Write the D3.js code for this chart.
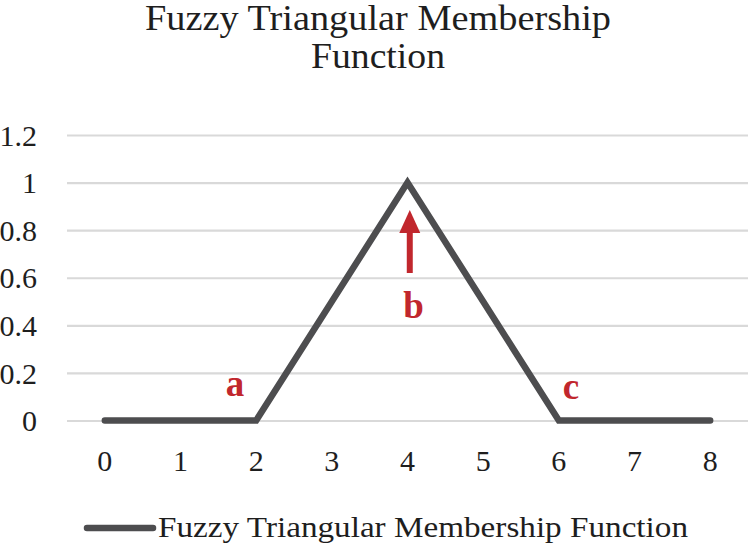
<!DOCTYPE html>
<html>
<head>
<meta charset="utf-8">
<script src="https://cdn.jsdelivr.net/npm/d3@7"></script>
<style>
  body { margin: 0; background: #fff; }
  svg { display: block; }
  .tick text { font-family: 'Liberation Serif', 'DejaVu Serif', serif; font-size: 30px; }
</style>
</head>
<body>
<div id="chart"></div>
<script>
// data
const xCategories = ["0", "1", "2", "3", "4", "5", "6", "7", "8"];
const membership = [0, 0, 0, 0.5, 1, 0.5, 0, 0, 0];
const yTicks = [0, 0.2, 0.4, 0.6, 0.8, 1, 1.2];
const seriesName = "Fuzzy Triangular Membership Function";
const titleLines = ["Fuzzy Triangular Membership", "Function"];
// annotation letters (x in category units, y in membership units)
const labelNames = ["a", "b", "c"];
const labelX = [1.72, 4.08, 6.16];
const labelY = [0.105, 0.43, 0.092];
const arrowFrom = [4.03, 0.62];
const arrowTo = [4.03, 0.885];

const width = 750, height = 546;
const margin = {top: 135, right: 2, bottom: 125.5, left: 67};
const serif = "'Liberation Serif', 'DejaVu Serif', serif";

const svg = d3.select("#chart").append("svg")
    .attr("width", width)
    .attr("height", height);

const innerW = width - margin.left - margin.right;
const innerH = height - margin.top - margin.bottom;

const band = d3.scaleBand().domain(xCategories).range([0, innerW]);
const xScale = d3.scaleLinear()
    .domain([0, xCategories.length - 1])
    .range([band.bandwidth() / 2, innerW - band.bandwidth() / 2]);
const yScale = d3.scaleLinear().domain([0, 1.2]).range([innerH, 0]);

const g = svg.append("g")
    .attr("transform", "translate(" + margin.left + "," + margin.top + ")");

// title
svg.append("g").selectAll("text")
    .data(titleLines)
    .join("text")
    .attr("x", 378)
    .attr("y", (d, i) => 30 + i * 38)
    .attr("text-anchor", "middle")
    .style("font-family", serif)
    .style("font-size", "35px")
    .attr("fill", "#1e1e1e")
    .attr("textLength", (d, i) => i === 0 ? 466 : 134)
    .attr("lengthAdjust", "spacingAndGlyphs")
    .text(d => d);

// gridlines
const yAxis = d3.axisLeft(yScale)
    .tickValues(yTicks)
    .tickSize(-innerW)
    .tickPadding(30)
    .tickFormat(d => d3.format("~g")(d));
const yG = g.append("g").attr("class", "y-axis").call(yAxis);
yG.attr("font-size", null).attr("font-family", null);
yG.select(".domain").remove();
yG.selectAll(".tick line").attr("stroke", "#d9d9d9").attr("stroke-width", 2.2);
yG.selectAll(".tick text")
    .attr("fill", "#1e1e1e")
    .attr("dy", "0.34em");

// x axis labels
const xAxis = d3.axisBottom(band).tickSize(0).tickPadding(29);
const xG = g.append("g").attr("class", "x-axis")
    .attr("transform", "translate(0," + innerH + ")")
    .call(xAxis);
xG.attr("font-size", null).attr("font-family", null);
xG.select(".domain").remove();
xG.selectAll(".tick text")
    .attr("fill", "#1e1e1e");

// the membership line
const line = d3.line()
    .x((d, i) => xScale(i))
    .y(d => yScale(d));
g.append("path")
    .datum(membership)
    .attr("fill", "none")
    .attr("stroke", "#4d4d4f")
    .attr("stroke-width", 6.5)
    .attr("stroke-linejoin", "miter")
    .attr("stroke-linecap", "round")
    .attr("d", line);

// red annotations
const red = "#c1272d";
g.selectAll(".ann")
    .data(labelNames)
    .join("text")
    .attr("class", "ann")
    .attr("x", (d, i) => xScale(labelX[i]))
    .attr("y", (d, i) => yScale(labelY[i]))
    .attr("text-anchor", "middle")
    .style("font-family", serif)
    .style("font-size", "37px")
    .style("font-weight", "bold")
    .attr("fill", red)
    .text(d => d);

const ax = xScale(arrowFrom[0]);
const ay0 = yScale(arrowFrom[1]);
const ay1 = yScale(arrowTo[1]);
g.append("line")
    .attr("x1", ax).attr("x2", ax)
    .attr("y1", ay0).attr("y2", ay1 + 20)
    .attr("stroke", red)
    .attr("stroke-width", 6);
g.append("path")
    .attr("d", "M" + ax + "," + ay1 + "L" + (ax + 10.5) + "," + (ay1 + 23) + "L" + (ax - 10.5) + "," + (ay1 + 23) + "Z")
    .attr("fill", red);

// legend
const legend = svg.append("g").attr("transform", "translate(0,528)");
legend.append("line")
    .attr("x1", 87).attr("x2", 153)
    .attr("y1", 0).attr("y2", 0)
    .attr("stroke", "#4d4d4f")
    .attr("stroke-width", 6.5)
    .attr("stroke-linecap", "round");
legend.append("text")
    .attr("x", 158)
    .attr("y", 9)
    .style("font-family", serif)
    .style("font-size", "29px")
    .attr("fill", "#1e1e1e")
    .attr("textLength", 530)
    .attr("lengthAdjust", "spacingAndGlyphs")
    .text(seriesName);
</script>
</body>
</html>
